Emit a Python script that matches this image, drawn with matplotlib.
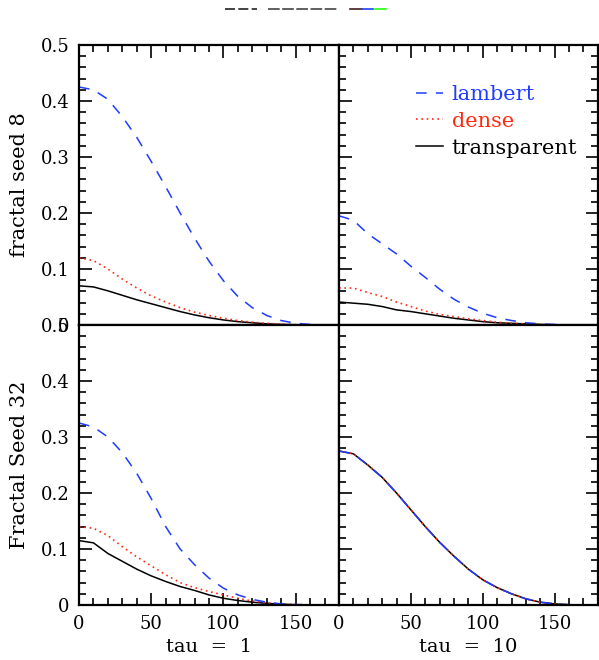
import matplotlib
matplotlib.use("Agg")
import matplotlib.pyplot as plt
from matplotlib.lines import Line2D

# tau values sampled along x
tau = [0, 10, 20, 30, 40, 50, 60, 70, 80, 90, 100, 110, 120, 130, 140, 150, 160, 170, 180]

# fractal seed 8, tau = 1
s8_t1_lambert = [0.425, 0.42, 0.403, 0.372, 0.335, 0.292, 0.247, 0.2, 0.155, 0.114, 0.079, 0.051, 0.031, 0.017, 0.008, 0.003, 0.001, 0.0, 0.0]
s8_t1_dense = [0.12, 0.115, 0.1, 0.082, 0.066, 0.052, 0.041, 0.031, 0.023, 0.017, 0.012, 0.008, 0.005, 0.003, 0.0015, 0.0005, 0.0, 0.0, 0.0]
s8_t1_transp = [0.07, 0.068, 0.061, 0.053, 0.045, 0.038, 0.031, 0.024, 0.018, 0.013, 0.009, 0.006, 0.004, 0.002, 0.001, 0.0005, 0.0, 0.0, 0.0]

# fractal seed 8, tau = 10
s8_t10_lambert = [0.195, 0.187, 0.163, 0.145, 0.127, 0.105, 0.085, 0.064, 0.046, 0.032, 0.021, 0.013, 0.008, 0.004, 0.002, 0.001, 0.0, 0.0, 0.0]
s8_t10_dense = [0.066, 0.066, 0.058, 0.051, 0.041, 0.033, 0.025, 0.019, 0.015, 0.011, 0.008, 0.005, 0.003, 0.002, 0.001, 0.0, 0.0, 0.0, 0.0]
s8_t10_transp = [0.041, 0.039, 0.037, 0.033, 0.027, 0.024, 0.02, 0.016, 0.012, 0.009, 0.006, 0.004, 0.003, 0.002, 0.001, 0.0, 0.0, 0.0, 0.0]

# fractal seed 32, tau = 1
s32_t1_lambert = [0.325, 0.318, 0.3, 0.272, 0.235, 0.19, 0.14, 0.1, 0.072, 0.048, 0.03, 0.018, 0.01, 0.005, 0.002, 0.001, 0.0, 0.0, 0.0]
s32_t1_dense = [0.14, 0.137, 0.124, 0.104, 0.086, 0.07, 0.054, 0.04, 0.031, 0.024, 0.018, 0.012, 0.007, 0.004, 0.002, 0.001, 0.0, 0.0, 0.0]
s32_t1_transp = [0.115, 0.111, 0.092, 0.078, 0.064, 0.052, 0.042, 0.033, 0.026, 0.018, 0.012, 0.008, 0.005, 0.003, 0.0015, 0.0005, 0.0, 0.0, 0.0]

# fractal seed 32, tau = 10 (all three coincide)
s32_t10_lambert = [0.275, 0.27, 0.25, 0.228, 0.2, 0.17, 0.14, 0.112, 0.087, 0.064, 0.045, 0.031, 0.02, 0.011, 0.005, 0.002, 0.0005, 0.0, 0.0]
s32_t10_dense = [0.275, 0.27, 0.25, 0.228, 0.2, 0.17, 0.14, 0.112, 0.087, 0.064, 0.045, 0.031, 0.02, 0.011, 0.005, 0.002, 0.0005, 0.0, 0.0]
s32_t10_transp = [0.275, 0.27, 0.25, 0.228, 0.2, 0.17, 0.14, 0.112, 0.087, 0.064, 0.045, 0.031, 0.02, 0.011, 0.005, 0.002, 0.0005, 0.0, 0.0]

xticks = [0, 50, 100, 150]
xtick_labels = ["0", "50", "100", "150"]
yticks = [0, 0.1, 0.2, 0.3, 0.4, 0.5]
ytick_labels = ["0", "0.1", "0.2", "0.3", "0.4", "0.5"]
row_labels = ["fractal seed 8", "Fractal Seed 32"]
col_labels = ["tau  =  1", "tau  =  10"]
series_names = ["lambert", "dense", "transparent"]

BLUE = "#1f3cff"
RED = "#ff2a10"
BLACK = "black"

plt.rcParams["font.family"] = ["DejaVu Serif"]
plt.rcParams["font.size"] = 13

fig = plt.figure(figsize=(5.99, 6.6), dpi=100)

W, H = 599.0, 660.0
panel_w = 260 / W
panel_h = 280 / H
lefts = [79 / W, 339 / W]
bottoms = [1 - 325 / H, 1 - 605 / H]

data = [
    [(s8_t1_lambert, s8_t1_dense, s8_t1_transp), (s8_t10_lambert, s8_t10_dense, s8_t10_transp)],
    [(s32_t1_lambert, s32_t1_dense, s32_t1_transp), (s32_t10_lambert, s32_t10_dense, s32_t10_transp)],
]

for r in range(2):
    for c in range(2):
        ax = fig.add_axes([lefts[c], bottoms[r], panel_w - (0.002 if c == 1 else 0), panel_h])
        lam, den, tra = data[r][c]
        ax.plot(tau, tra, color=BLACK, lw=1.1, label=series_names[2])
        ax.plot(tau, den, color=RED, lw=1.2, ls=(0, (1, 2.2)), label=series_names[1])
        ax.plot(tau, lam, color=BLUE, lw=1.1, ls=(0, (7, 6)), label=series_names[0])
        ax.set_xlim(0, 180)
        ax.set_ylim(0, 0.5)
        ax.set_xticks(xticks)
        ax.set_xticks(range(10, 180, 10), minor=True)
        ax.set_yticks(yticks)
        ax.set_yticks([v / 100 for v in range(2, 50, 2)], minor=True)
        for sp in ax.spines.values():
            sp.set_linewidth(1.6)
        ax.tick_params(which="both", direction="in", top=(r == 0), bottom=(r == 1),
                       left=True, right=(c == 1))
        ax.tick_params(which="major", length=9, width=1.2, pad=7)
        ax.tick_params(which="minor", length=5, width=1.2)
        if r == 1:
            ax.set_xticklabels(xtick_labels)
            ax.set_xlabel(col_labels[c], labelpad=4, fontsize=14)
        else:
            ax.set_xticklabels([])
        if c == 0:
            ax.set_yticklabels(ytick_labels)
            ax.set_ylabel(row_labels[r], labelpad=8, fontsize=15)
        else:
            ax.set_yticklabels([])
        if r == 0 and c == 1:
            handles, labels = ax.get_legend_handles_labels()
            order = [2, 1, 0]
            ax.legend([handles[i] for i in order], [labels[i] for i in order],
                      loc="upper right", bbox_to_anchor=(0.96, 0.895), frameon=False,
                      labelcolor="linecolor", handlelength=1.3, handletextpad=0.4,
                      labelspacing=0.38, borderpad=0, fontsize=15)

# garbled header strip at the very top
def seg(x0, x1, color, dashes=None):
    ln = Line2D([x0 / W, x1 / W], [1 - 8.5 / H, 1 - 8.5 / H], transform=fig.transFigure,
                color=color, lw=1.2)
    if dashes:
        ln.set_dashes(dashes)
    fig.add_artist(ln)

seg(225, 257, "#222222", (6, 2))
seg(268, 338, "#444444", (7, 1.5))
seg(350, 362, "#402020")
seg(363, 373, "#2040ff")
seg(375, 386, "#20ff10")

fig.savefig("out.png", dpi=100)
